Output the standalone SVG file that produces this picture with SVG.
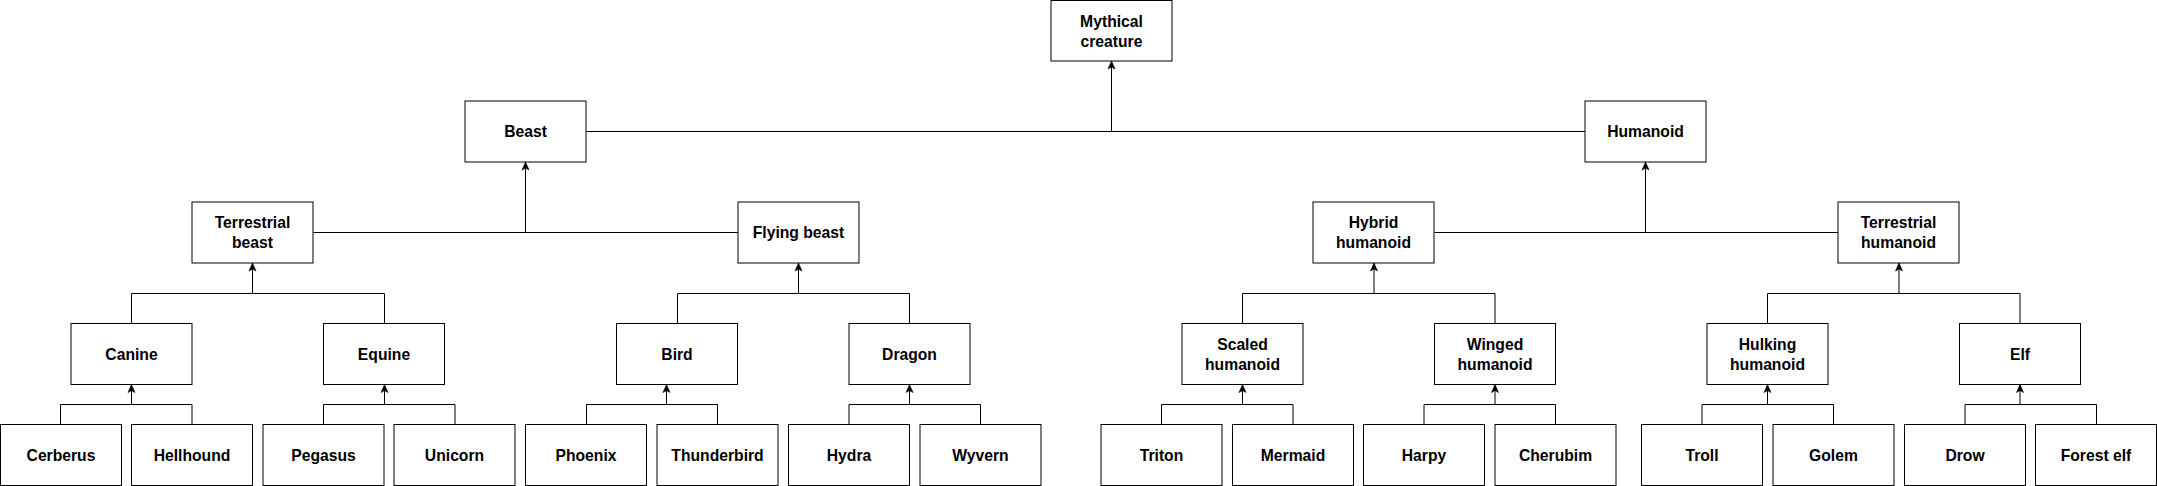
<svg xmlns="http://www.w3.org/2000/svg" width="2157" height="486" viewBox="0 0 2157 486">
<style>
.n rect{fill:#fff;stroke:#000;stroke-width:1}
.n text{font-family:"Liberation Sans",Arial,Helvetica,sans-serif;font-weight:bold;font-size:15.7px;fill:#000;text-anchor:middle}
.c path{fill:none;stroke:#000;stroke-width:1}
.c path.a{marker-end:url(#arr)}
</style>
<defs>
<marker id="arr" markerUnits="userSpaceOnUse" markerWidth="10" markerHeight="10" refX="8" refY="3.5" orient="auto" overflow="visible">
<path d="M8,3.5 L0,0 L2,3.5 L0,7 Z" fill="#000" stroke="#000" stroke-width="0.6" stroke-linejoin="miter"/>
</marker>
</defs>
<rect width="2157" height="486" fill="#fff"/>
<g class="c" id="connectors">
<!-- top level -->
<path d="M586.3,131.5 H1585"/>
<path class="a" d="M1111.5,131.5 V61"/>
<!-- beast -->
<path d="M313.4,232.5 H737.9"/>
<path class="a" d="M525.5,232.5 V162"/>
<!-- humanoid -->
<path d="M1434.6,232.5 H1838.5"/>
<path class="a" d="M1645.5,232.5 V162"/>
<!-- row3 to row2 -->
<path d="M131.5,323.5 V293.5 H384.5 V323.5"/>
<path class="a" d="M252.5,293.5 V263"/>
<path d="M677.5,323.5 V293.5 H909.5 V323.5"/>
<path class="a" d="M798.5,293.5 V263"/>
<path d="M1242.5,323.5 V293.5 H1495 V323.5"/>
<path class="a" d="M1374,293.5 V263"/>
<path d="M1767.5,323.5 V293.5 H2020 V323.5"/>
<path class="a" d="M1899,293.5 V263"/>
<!-- row4 to row3 -->
<path d="M60.5,424.5 V404.5 H192 V424.5"/>
<path class="a" d="M131.5,404.5 V384.5"/>
<path d="M323.5,424.5 V404.5 H455 V424.5"/>
<path class="a" d="M384.5,404.5 V384.5"/>
<path d="M586.5,424.5 V404.5 H717.5 V424.5"/>
<path class="a" d="M666.5,404.5 V384.5"/>
<path d="M849,424.5 V404.5 H980.5 V424.5"/>
<path class="a" d="M909.5,404.5 V384.5"/>
<path d="M1161.5,424.5 V404.5 H1293 V424.5"/>
<path class="a" d="M1242.5,404.5 V384.5"/>
<path d="M1424,424.5 V404.5 H1555.5 V424.5"/>
<path class="a" d="M1495,404.5 V384.5"/>
<path d="M1702,424.5 V404.5 H1833.5 V424.5"/>
<path class="a" d="M1767.5,404.5 V384.5"/>
<path d="M1965,424.5 V404.5 H2096.5 V424.5"/>
<path class="a" d="M2020,404.5 V384.5"/>
</g>
<!-- row 0 -->
<g class="n" id="mythical-creature"><rect x="1051" y="0.5" width="121" height="60.5"/><text x="1111.5" y="26.5">Mythical</text><text x="1111.5" y="46.5">creature</text></g>
<!-- row 1 -->
<g class="n" id="beast"><rect x="465" y="101" width="121" height="61"/><text x="525.5" y="137.3">Beast</text></g>
<g class="n" id="humanoid"><rect x="1585" y="101" width="121" height="61"/><text x="1645.5" y="137.3">Humanoid</text></g>
<!-- row 2 -->
<g class="n" id="terrestrial-beast"><rect x="192" y="202" width="121" height="61"/><text x="252.5" y="228.3">Terrestrial</text><text x="252.5" y="248.3">beast</text></g>
<g class="n" id="flying-beast"><rect x="738" y="202" width="121" height="61"/><text x="798.5" y="238.3">Flying beast</text></g>
<g class="n" id="hybrid-humanoid"><rect x="1313" y="202" width="121" height="61"/><text x="1373.5" y="228.3">Hybrid</text><text x="1373.5" y="248.3">humanoid</text></g>
<g class="n" id="terrestrial-humanoid"><rect x="1838" y="202" width="121" height="61"/><text x="1898.5" y="228.3">Terrestrial</text><text x="1898.5" y="248.3">humanoid</text></g>
<!-- row 3 -->
<g class="n" id="canine"><rect x="71" y="323.5" width="121" height="61"/><text x="131.5" y="359.6">Canine</text></g>
<g class="n" id="equine"><rect x="323.5" y="323.5" width="121" height="61"/><text x="384" y="359.6">Equine</text></g>
<g class="n" id="bird"><rect x="616.5" y="323.5" width="121" height="61"/><text x="677" y="359.6">Bird</text></g>
<g class="n" id="dragon"><rect x="849" y="323.5" width="121" height="61"/><text x="909.5" y="359.6">Dragon</text></g>
<g class="n" id="scaled-humanoid"><rect x="1182" y="323.5" width="121" height="61"/><text x="1242.5" y="349.6">Scaled</text><text x="1242.5" y="369.6">humanoid</text></g>
<g class="n" id="winged-humanoid"><rect x="1434.5" y="323.5" width="121" height="61"/><text x="1495" y="349.6">Winged</text><text x="1495" y="369.6">humanoid</text></g>
<g class="n" id="hulking-humanoid"><rect x="1707" y="323.5" width="121" height="61"/><text x="1767.5" y="349.6">Hulking</text><text x="1767.5" y="369.6">humanoid</text></g>
<g class="n" id="elf"><rect x="1959.5" y="323.5" width="121" height="61"/><text x="2020" y="359.6">Elf</text></g>
<!-- row 4 -->
<g class="n" id="cerberus"><rect x="0.5" y="424.5" width="121" height="61"/><text x="61" y="460.7">Cerberus</text></g>
<g class="n" id="hellhound"><rect x="131.5" y="424.5" width="121" height="61"/><text x="192" y="460.7">Hellhound</text></g>
<g class="n" id="pegasus"><rect x="263" y="424.5" width="121" height="61"/><text x="323.5" y="460.7">Pegasus</text></g>
<g class="n" id="unicorn"><rect x="394" y="424.5" width="121" height="61"/><text x="454.5" y="460.7">Unicorn</text></g>
<g class="n" id="phoenix"><rect x="525.5" y="424.5" width="121" height="61"/><text x="586" y="460.7">Phoenix</text></g>
<g class="n" id="thunderbird"><rect x="657" y="424.5" width="121" height="61"/><text x="717.5" y="460.7">Thunderbird</text></g>
<g class="n" id="hydra"><rect x="788.5" y="424.5" width="121" height="61"/><text x="849" y="460.7">Hydra</text></g>
<g class="n" id="wyvern"><rect x="920" y="424.5" width="121" height="61"/><text x="980.5" y="460.7">Wyvern</text></g>
<g class="n" id="triton"><rect x="1101" y="424.5" width="121" height="61"/><text x="1161.5" y="460.7">Triton</text></g>
<g class="n" id="mermaid"><rect x="1232.5" y="424.5" width="121" height="61"/><text x="1293" y="460.7">Mermaid</text></g>
<g class="n" id="harpy"><rect x="1363.5" y="424.5" width="121" height="61"/><text x="1424" y="460.7">Harpy</text></g>
<g class="n" id="cherubim"><rect x="1495" y="424.5" width="121" height="61"/><text x="1555.5" y="460.7">Cherubim</text></g>
<g class="n" id="troll"><rect x="1641.5" y="424.5" width="121" height="61"/><text x="1702" y="460.7">Troll</text></g>
<g class="n" id="golem"><rect x="1773" y="424.5" width="121" height="61"/><text x="1833.5" y="460.7">Golem</text></g>
<g class="n" id="drow"><rect x="1904.5" y="424.5" width="121" height="61"/><text x="1965" y="460.7">Drow</text></g>
<g class="n" id="forest-elf"><rect x="2035.5" y="424.5" width="121" height="61"/><text x="2096" y="460.7">Forest elf</text></g>
</svg>
